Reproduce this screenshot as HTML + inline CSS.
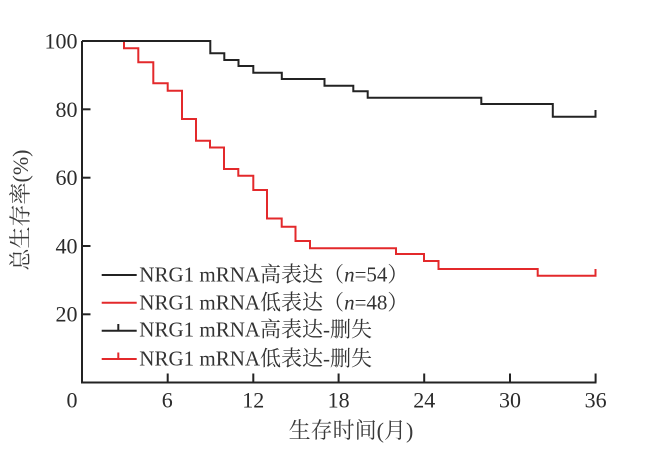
<!DOCTYPE html>
<html>
<head>
<meta charset="utf-8">
<style>
  html, body { margin: 0; padding: 0; background: #ffffff; }
  svg { display: block; }
  .num { font-family: "Liberation Serif", "Noto Serif CJK SC", serif; font-size: 22px; fill: #2b2b2b; }
  .leg { font-family: "Liberation Serif", "Noto Serif CJK SC", serif; font-size: 21px; fill: #333333; }
  .ttl { font-family: "Liberation Serif", "Noto Serif CJK SC", serif; font-size: 22px; fill: #3a3a3a; }
</style>
</head>
<body>
<svg width="645" height="450" viewBox="0 0 645 450" xmlns="http://www.w3.org/2000/svg">
  <rect x="0" y="0" width="645" height="450" fill="#ffffff"/>

  <!-- Red curve (low expression) -->
  <path d="M82,41 H124 V48.3 H138.3 V62.3 H153.3 V83.3 H167.7 V90.7 H182 V119 H196 V140.7 H210 V147.5 H224 V169 H238.3 V175.7 H253.3 V190 H267 V218.5 H281.7 V226.7 H295.5 V241 H310 V248.3 H396 V254 H424 V261 H438.5 V269 H537.7 V275.7 H595.5 V269"
        fill="none" stroke="#e3292b" stroke-width="2"/>

  <!-- Black curve (high expression) -->
  <path d="M82,41 H210.3 V53.3 H224.3 V60 H238.5 V66 H253.3 V72.7 H281.8 V79 H324.5 V85.7 H353.3 V91.3 H367.7 V97.7 H481.3 V104 H552.8 V116.7 H595.5 V110"
        fill="none" stroke="#232323" stroke-width="2"/>

  <!-- Axes -->
  <path d="M82,41 V382.5 H596.5" fill="none" stroke="#232323" stroke-width="2"/>

  <!-- Y ticks -->
  <g stroke="#232323" stroke-width="2">
    <line x1="82" y1="109.3" x2="90.5" y2="109.3"/>
    <line x1="82" y1="177.7" x2="90.5" y2="177.7"/>
    <line x1="82" y1="246.0" x2="90.5" y2="246.0"/>
    <line x1="82" y1="314.3" x2="90.5" y2="314.3"/>
  </g>

  <!-- X ticks -->
  <g stroke="#232323" stroke-width="2">
    <line x1="167.7" y1="382.5" x2="167.7" y2="373.5"/>
    <line x1="253.3" y1="382.5" x2="253.3" y2="373.5"/>
    <line x1="338.6" y1="382.5" x2="338.6" y2="373.5"/>
    <line x1="424.2" y1="382.5" x2="424.2" y2="373.5"/>
    <line x1="510.0" y1="382.5" x2="510.0" y2="373.5"/>
    <line x1="595.6" y1="382.5" x2="595.6" y2="373.5"/>
  </g>

  <!-- Y tick labels -->
  <g class="num" text-anchor="end">
    <text x="77.5" y="48.5">100</text>
    <text x="77.5" y="116.8">80</text>
    <text x="77.5" y="185.1">60</text>
    <text x="77.5" y="253.4">40</text>
    <text x="77.5" y="321.7">20</text>
  </g>

  <!-- X tick labels -->
  <g class="num" text-anchor="middle">
    <text x="72" y="407.3">0</text>
    <text x="167.2" y="407.3">6</text>
    <text x="253.3" y="407.3">12</text>
    <text x="338.6" y="407.3">18</text>
    <text x="424.2" y="407.3">24</text>
    <text x="510.0" y="407.3">30</text>
    <text x="595.6" y="407.3">36</text>
  </g>

  <!-- Axis titles -->
  <text class="ttl" x="351" y="438" text-anchor="middle">生存时间(月)</text>
  <text class="ttl" transform="translate(28,210) rotate(-90)" x="0" y="0" text-anchor="middle">总生存率(%)</text>

  <!-- Legend -->
  <g stroke-width="2" fill="none">
    <line x1="101.7" y1="275" x2="136.7" y2="275" stroke="#232323"/>
    <line x1="101.7" y1="302.7" x2="136.7" y2="302.7" stroke="#e3292b"/>
    <line x1="101.7" y1="330.7" x2="136.7" y2="330.7" stroke="#232323"/>
    <line x1="118.3" y1="330.7" x2="118.3" y2="324" stroke="#232323"/>
    <line x1="101.7" y1="359" x2="136.7" y2="359" stroke="#e3292b"/>
    <line x1="118.3" y1="359" x2="118.3" y2="352.5" stroke="#e3292b"/>
  </g>
  <g class="leg">
    <text x="139.3" y="281.7">NRG1 mRNA高表达（<tspan font-style="italic">n</tspan>=54）</text>
    <text x="139.3" y="309.3">NRG1 mRNA低表达（<tspan font-style="italic">n</tspan>=48）</text>
    <text x="139.3" y="336.7">NRG1 mRNA高表达-删失</text>
    <text x="139.3" y="365.7">NRG1 mRNA低表达-删失</text>
  </g>
</svg>
</body>
</html>
